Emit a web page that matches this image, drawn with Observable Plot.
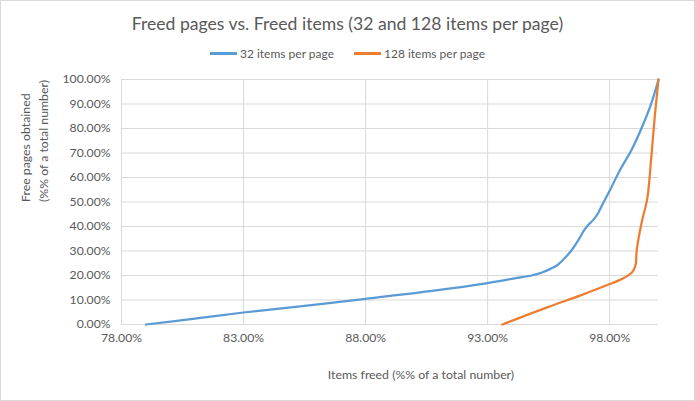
<!DOCTYPE html>
<html><head><meta charset="utf-8">
<script src="https://cdn.jsdelivr.net/npm/d3@7"></script>
<script src="https://cdn.jsdelivr.net/npm/@observablehq/plot@0.6"></script>
<style>
body{margin:0;background:#fff;}
#chart{position:relative;width:695px;height:401px;box-sizing:border-box;outline:1px solid #d9d9d9;outline-offset:-1px;overflow:hidden;font-family:Lato,"Liberation Sans",sans-serif;color:#595959;background:#fff;}
#title{padding-top:12px;height:24px;line-height:24px;text-align:center;font-size:17.6px;white-space:nowrap;}
#legend{padding-top:5px;height:25px;line-height:25px;display:flex;justify-content:center;font-size:12px;white-space:nowrap;}
.item{display:flex;align-items:center;margin:0 10px;}
.sw{display:inline-block;width:27px;height:2.5px;margin-right:3px;}
#plot svg{display:block;}
</style></head>
<body>
<div id="chart">
  <div id="title">Freed pages vs. Freed items (32 and 128 items per page)</div>
  <div id="legend"></div>
  <div id="plot"></div>
</div>
<script>
// Series names and colours
const seriesNames = ["32 items per page", "128 items per page"];
const seriesColors = ["#5b9bd5", "#ed7d31"];

// 32 items per page: items freed (%) vs free pages obtained (%)
const blueX = [79.0, 81.0, 83.0, 85.5, 88.0, 90.8, 93.0, 94.1, 94.8, 95.2, 95.55, 95.85, 96.1, 96.4, 96.75, 96.95, 97.1, 97.3, 97.5, 97.72, 98.03, 98.45, 98.86, 99.27, 99.68, 100.0];
const blueY = [0.0, 2.4, 4.9, 7.6, 10.5, 13.8, 16.9, 18.8, 20.0, 21.1, 22.6, 24.2, 26.5, 29.8, 35.0, 38.4, 40.4, 42.4, 45.0, 49.3, 55.2, 63.6, 70.6, 79.3, 89.5, 100.0];

// 128 items per page
const orangeX = [93.6, 95.44, 96.81, 98.03, 98.5, 98.82, 98.97, 99.04, 99.08, 99.1, 99.18, 99.34, 99.54, 99.7, 99.84, 100.0];
const orangeY = [0.0, 7.0, 11.9, 16.6, 18.6, 20.5, 22.0, 23.6, 25.5, 29.5, 35.0, 43.0, 51.4, 67.7, 84.1, 100.0];

// Axis ticks
const xTicks = [78, 83, 88, 93, 98];
const yTicks = [0, 10, 20, 30, 40, 50, 60, 70, 80, 90, 100];
const xDomain = [78, 100];
const yDomain = [0, 100];
const xTitle = "Items freed (%% of a total number)";
const yTitle = "Free pages obtained\n(%% of a total number)";

const blue = blueX.map((x, i) => ({x, y: blueY[i]}));
const orange = orangeX.map((x, i) => ({x, y: orangeY[i]}));
const fmt = d => d.toFixed(2) + "%";
const grid = "#d9d9d9";
const txt = "#595959";

// legend
const legend = document.getElementById("legend");
seriesNames.forEach((n, i) => {
  const it = document.createElement("div");
  it.className = "item";
  it.innerHTML = `<span class="sw" style="background:${seriesColors[i]}"></span><span>${n}</span>`;
  legend.appendChild(it);
});

const chart = Plot.plot({
  width: 695,
  height: 335,
  marginTop: 13,
  marginBottom: 77,
  marginLeft: 121,
  marginRight: 37,
  style: {fontFamily: "Lato, 'Liberation Sans', sans-serif", fontSize: "12px", color: txt, background: "white"},
  x: {domain: xDomain, ticks: xTicks, tickFormat: fmt},
  y: {domain: yDomain, ticks: yTicks, tickFormat: fmt},
  marks: [
    Plot.gridY(yTicks, {stroke: grid, strokeOpacity: 1, strokeWidth: 1}),
    Plot.gridX(xTicks, {stroke: grid, strokeOpacity: 1, strokeWidth: 1}),
    Plot.ruleY([0], {stroke: grid, strokeWidth: 1}),
    Plot.line(blue, {x: "x", y: "y", stroke: seriesColors[0], strokeWidth: 2.25, curve: "catmull-rom"}),
    Plot.line(orange, {x: "x", y: "y", stroke: seriesColors[1], strokeWidth: 2.25, curve: "catmull-rom"}),
    Plot.axisX({ticks: xTicks, tickFormat: fmt, tickSize: 0, tickPadding: 9, label: null, fill: txt, fontSize: 12.2}),
    Plot.axisY({ticks: yTicks, tickFormat: fmt, tickSize: 0, tickPadding: 11, label: null, fill: txt, fontSize: 12.2}),
    Plot.text([xTitle], {frameAnchor: "bottom", dx: 31, dy: 54, fill: txt, fontSize: 12.3}),
    Plot.text([yTitle], {frameAnchor: "left", rotate: -90, dx: -88, fill: txt, fontSize: 12.3, lineHeight: 1.4})
  ]
});
document.getElementById("plot").appendChild(chart);
</script>
</body></html>
